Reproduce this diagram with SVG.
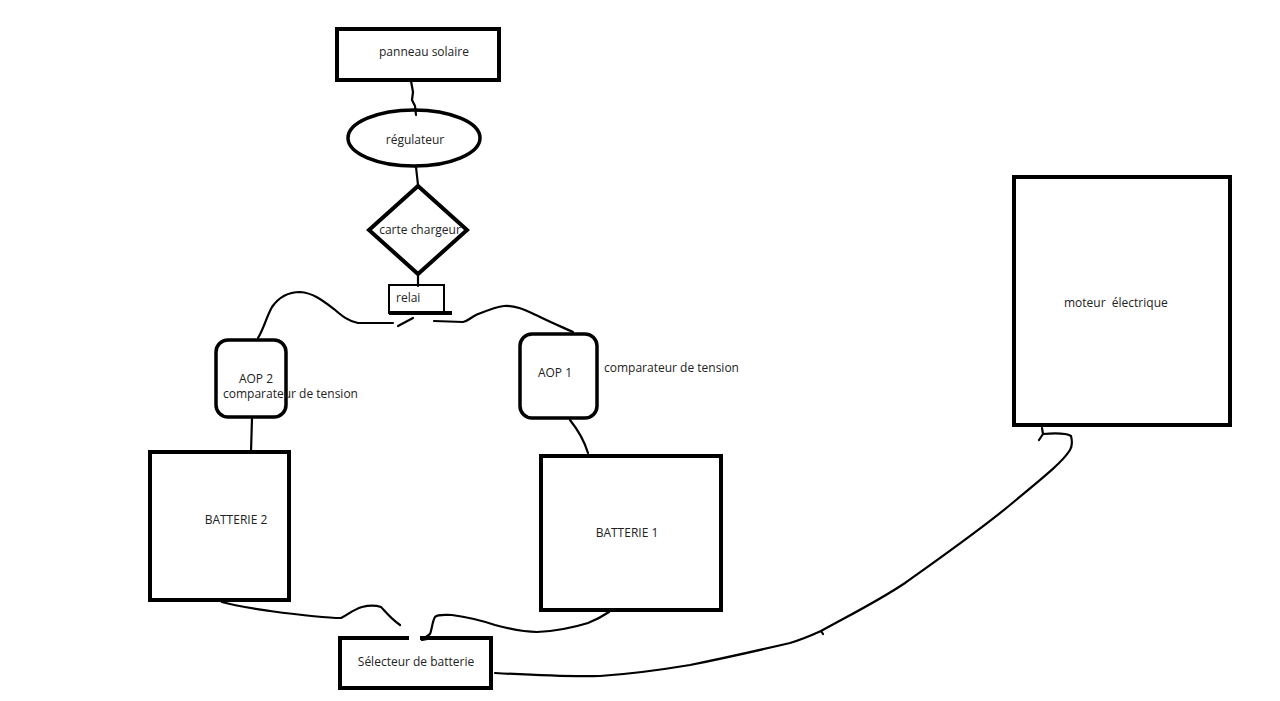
<svg xmlns="http://www.w3.org/2000/svg" width="1280" height="701" viewBox="0 0 1280 701">
<style>
.box{fill:none;stroke:#000;stroke-width:4}
.mid{fill:none;stroke:#000;stroke-width:3.5}
.thin{fill:none;stroke:#000;stroke-width:2}
.w{fill:none;stroke:#000;stroke-width:2.2;stroke-linecap:round;stroke-linejoin:round}
text{font-family:"Open Sans","Noto Sans","Liberation Sans",sans-serif;font-size:12px;fill:#222}
.c{text-anchor:middle}
</style>
<rect width="1280" height="701" fill="#fff"/>
<g id="connectors">
<path class="w" d="M411,81 L413,92 L412,100 L415,106 L416,115"/>
<path class="w" d="M416,167 L418,185"/>
<path class="w" d="M418,273 L418,286"/>
<path class="w" d="M413,318 L398,326 M393,323 L358,323 C348,321 342,316 334,309 C322,300 313,293 300,292 C288,292 279,297 272,307 C266,318 264,328 258,338"/>
<path class="w" d="M434,321 L463,322 C468,321 470,318 476,315 C486,311 495,307 504,306 C515,305 525,310 538,316 C550,322 562,327 573,332"/>
<path class="w" d="M252,418 L251,452"/>
<path class="w" d="M570,420 C578,430 584,440 588,453"/>
<path class="w" d="M222,602 C235,606 250,608 270,611 C300,615 325,618 341,618 C348,615 352,610 362,607 C370,605 378,606 381,607 C385,611 390,618 400,625"/>
<path class="w" d="M609,612 C603,616 596,620 588,623 C572,628 557,631 537,632 C522,632 510,629 495,625 C480,620 467,617 452,615 C444,615 438,614 435,617 C432,622 432,630 430,634 L422,640 L433,638"/>
<path class="w" d="M495,673 C530,675 565,677 600,676 C630,674 660,670 690,665 C725,658 760,650 790,643 C800,640 810,636 821,631 L823,634 M821,631 C850,615 880,600 905,583 C940,558 980,530 1010,505 C1040,480 1062,463 1070,450 C1073,445 1072,440 1071,436 C1066,433 1055,433 1043,434 L1042,428 M1043,434 L1039,440"/>
</g>
<g id="panneau">
<rect class="box" x="337" y="29" width="162" height="51"/>
<text class="c" x="424" y="56">panneau solaire</text>
</g>
<g id="regulateur">
<ellipse class="mid" cx="414" cy="138" rx="66" ry="28"/>
<text class="c" x="415" y="144">régulateur</text>
</g>
<g id="chargeur">
<polygon class="box" points="418,186 467,230 418,274 369,230"/>
<text class="c" x="420" y="234">carte chargeur</text>
</g>
<g id="relai">
<rect class="thin" x="389" y="285" width="55" height="28"/>
<line x1="389" y1="313" x2="452" y2="313" stroke="#000" stroke-width="4"/>
<text x="396" y="302">relai</text>
</g>
<g id="aop2">
<rect class="mid" x="216" y="340" width="70" height="77" rx="12"/>
<text class="c" x="256" y="383">AOP 2</text>
<text x="223" y="398">comparateur de tension</text>
</g>
<g id="aop1">
<rect class="mid" x="520" y="334" width="77" height="84" rx="12"/>
<text class="c" x="555" y="377">AOP 1</text>
<text x="604" y="372">comparateur de tension</text>
</g>
<g id="batterie2">
<rect class="box" x="150" y="452" width="139" height="148"/>
<text class="c" x="236" y="524">BATTERIE 2</text>
</g>
<g id="batterie1">
<rect class="box" x="541" y="456" width="180" height="154"/>
<text class="c" x="627" y="537">BATTERIE 1</text>
</g>
<g id="selecteur">
<path class="box" d="M409,638 L340,638 L340,688 L491,688 L491,638 L420,638"/>
<text class="c" x="416" y="666">Sélecteur de batterie</text>
</g>
<g id="moteur">
<rect class="box" x="1014" y="177" width="216" height="248"/>
<text x="1064" y="307" style="white-space:pre">moteur  électrique</text>
</g>
</svg>
